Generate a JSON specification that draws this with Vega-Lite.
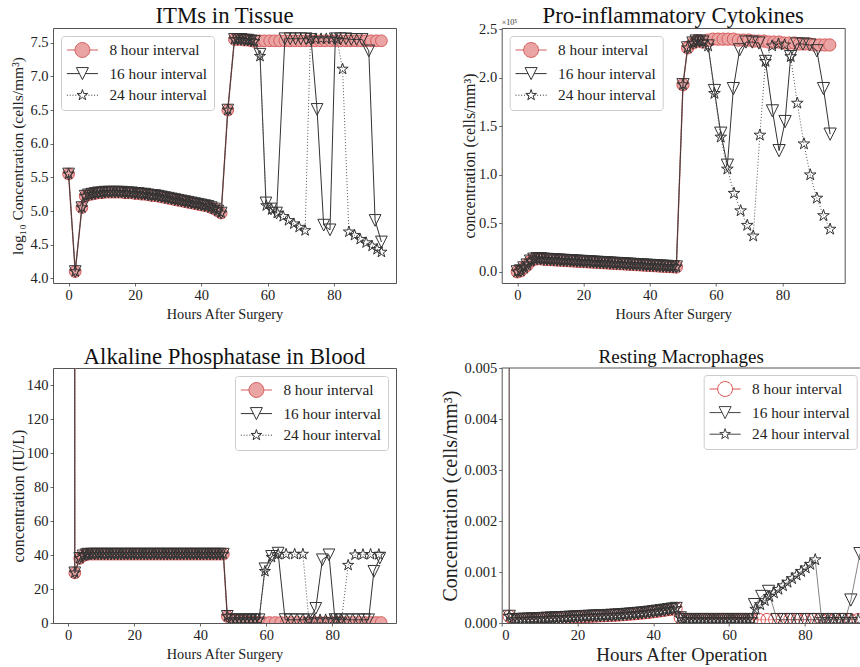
{
"$schema": "https://vega.github.io/schema/vega-lite/v6.json",
"padding": {"left": 9, "top": 4, "right": 0, "bottom": 0},
"background": "white",
"columns": 2,
"spacing": {"row": 85, "column": 105.7},
"bounds": "flush",
"config": {
  "font": "Liberation Serif",
  "view": {"stroke": "#555555", "strokeWidth": 1},
  "axis": {"domain": false, "grid": false, "tickSize": 3, "tickColor": "#444444", "tickWidth": 0.8, "labelFont": "Liberation Serif", "labelFontSize": 14.5, "labelColor": "#222222", "labelPadding": 2, "titleFont": "Liberation Serif", "titleFontSize": 15, "titleFontWeight": "normal", "titleColor": "#222222", "titleBaseline": "alphabetic"},
  "title": {"font": "Liberation Serif", "fontSize": 22.8, "fontWeight": "normal", "color": "#111111", "baseline": "alphabetic", "offset": 0, "anchor": "middle", "frame": "group"},
  "legend": {"padding": 6, "cornerRadius": 3, "strokeColor": "#cccccc", "fillColor": "rgba(255,255,255,0.85)", "labelFont": "Liberation Serif", "labelFontSize": 15.3, "labelColor": "#222222", "rowPadding": 4.6, "symbolSize": 200, "symbolStrokeWidth": 1, "symbolOpacity": 1, "labelOffset": 19, "symbolOffset": 7.4}
},
"resolve": {"scale": {"shape": "independent", "stroke": "independent", "fill": "independent"}, "legend": {"shape": "independent", "stroke": "independent", "fill": "independent"}},
"datasets": {
"itm": [
{"t":0,"a":5.55,"b":5.55,"c":5.55},{"t":2,"a":4.1,"b":4.1,"c":4.1},{"t":4,"a":5.05,"b":5.05,"c":5.05},{"t":5,"a":5.22,"b":5.22,"c":5.22},
{"t":6,"a":5.24,"b":5.24,"c":5.24},{"t":7,"a":5.25,"b":5.25,"c":5.25},{"t":8,"a":5.26,"b":5.26,"c":5.26},{"t":9,"a":5.27,"b":5.27,"c":5.27},
{"t":10,"a":5.27,"b":5.27,"c":5.27},{"t":11,"a":5.28,"b":5.28,"c":5.28},{"t":12,"a":5.28,"b":5.28,"c":5.28},{"t":13,"a":5.28,"b":5.28,"c":5.28},
{"t":14,"a":5.28,"b":5.28,"c":5.28},{"t":15,"a":5.28,"b":5.28,"c":5.28},{"t":16,"a":5.28,"b":5.28,"c":5.28},{"t":17,"a":5.27,"b":5.27,"c":5.27},
{"t":18,"a":5.27,"b":5.27,"c":5.27},{"t":19,"a":5.27,"b":5.27,"c":5.27},{"t":20,"a":5.26,"b":5.26,"c":5.26},{"t":21,"a":5.26,"b":5.26,"c":5.26},
{"t":22,"a":5.25,"b":5.25,"c":5.25},{"t":23,"a":5.25,"b":5.25,"c":5.25},{"t":24,"a":5.24,"b":5.24,"c":5.24},{"t":25,"a":5.23,"b":5.23,"c":5.23},
{"t":26,"a":5.23,"b":5.23,"c":5.23},{"t":27,"a":5.22,"b":5.22,"c":5.22},{"t":28,"a":5.21,"b":5.21,"c":5.21},{"t":29,"a":5.2,"b":5.2,"c":5.2},
{"t":30,"a":5.19,"b":5.19,"c":5.19},{"t":31,"a":5.18,"b":5.18,"c":5.18},{"t":32,"a":5.17,"b":5.17,"c":5.17},{"t":33,"a":5.16,"b":5.16,"c":5.16},
{"t":34,"a":5.15,"b":5.15,"c":5.15},{"t":35,"a":5.14,"b":5.14,"c":5.14},{"t":36,"a":5.13,"b":5.13,"c":5.13},{"t":37,"a":5.12,"b":5.12,"c":5.12},
{"t":38,"a":5.11,"b":5.11,"c":5.11},{"t":39,"a":5.1,"b":5.1,"c":5.1},{"t":40,"a":5.09,"b":5.09,"c":5.09},{"t":41,"a":5.08,"b":5.08,"c":5.08},
{"t":42,"a":5.07,"b":5.07,"c":5.07},{"t":43,"a":5.05,"b":5.05,"c":5.05},{"t":44,"a":5.03,"b":5.03,"c":5.03},{"t":45,"a":5.0,"b":5.0,"c":5.0},
{"t":46,"a":4.97,"b":4.97,"c":4.97},{"t":48,"a":6.5,"b":6.5,"c":6.5},{"t":50,"a":7.55,"b":7.55,"c":7.55},{"t":51,"a":7.55,"b":7.55,"c":7.55},
{"t":52,"a":7.55,"b":7.55,"c":7.55},{"t":53,"a":7.54,"b":7.54,"c":7.54},{"t":54,"a":7.54,"b":7.54,"c":7.54},{"t":55,"a":7.53,"b":7.53,"c":7.53},
{"t":56,"a":7.52,"b":7.52,"c":7.52},
{"t":57.5,"a":7.53},{"t":59.0,"a":7.53},{"t":60.6,"a":7.53},{"t":62.1,"a":7.53},{"t":63.6,"a":7.53},{"t":65.2,"a":7.53},{"t":66.7,"a":7.53},
{"t":68.2,"a":7.53},{"t":69.8,"a":7.53},{"t":71.3,"a":7.53},{"t":72.8,"a":7.53},{"t":74.4,"a":7.53},{"t":75.9,"a":7.53},{"t":77.4,"a":7.53},
{"t":79.0,"a":7.53},{"t":80.5,"a":7.53},{"t":82.0,"a":7.53},{"t":83.6,"a":7.53},{"t":85.1,"a":7.53},{"t":86.6,"a":7.53},{"t":88.2,"a":7.53},
{"t":89.7,"a":7.53},{"t":91.2,"a":7.53},{"t":92.8,"a":7.53},{"t":94.3,"a":7.53},
{"t":57.7,"b":7.33},{"t":59.5,"b":5.12},{"t":61.0,"b":5.03},{"t":62.7,"b":4.97},{"t":65.2,"b":7.56},{"t":66.8,"b":7.56},{"t":68.4,"b":7.56},
{"t":70.0,"b":7.56},{"t":71.6,"b":7.56},{"t":73.1,"b":7.55},{"t":74.9,"b":6.51},{"t":76.9,"b":4.79},{"t":78.8,"b":4.72},{"t":80.4,"b":7.56},
{"t":82.0,"b":7.56},{"t":83.6,"b":7.56},{"t":85.2,"b":7.55},{"t":86.8,"b":7.55},{"t":88.5,"b":7.55},{"t":90.5,"b":7.38},{"t":92.4,"b":4.86},{"t":94.3,"b":4.54},
{"t":57.7,"c":7.3},{"t":59.6,"c":5.08},{"t":61.2,"c":5.02},{"t":62.9,"c":4.97},{"t":64.7,"c":4.92},{"t":66.3,"c":4.86},{"t":67.9,"c":4.81},
{"t":69.5,"c":4.76},{"t":71.3,"c":4.71},{"t":72.9,"c":7.56},{"t":74.5,"c":7.56},{"t":76.1,"c":7.56},{"t":77.7,"c":7.56},{"t":79.3,"c":7.56},
{"t":80.9,"c":7.55},{"t":82.6,"c":7.11},{"t":84.5,"c":4.69},{"t":86.2,"c":4.64},{"t":87.9,"c":4.58},{"t":89.7,"c":4.53},{"t":91.5,"c":4.48},
{"t":93.0,"c":4.43},{"t":94.3,"c":4.39}
],
"cyt": [
{"t":0,"a":0,"b":0,"c":0},{"t":1,"a":0.01,"b":0.01,"c":0.01},{"t":2,"a":0.04,"b":0.04,"c":0.04},{"t":3,"a":0.07,"b":0.07,"c":0.07},
{"t":4,"a":0.11,"b":0.11,"c":0.11},{"t":5,"a":0.13,"b":0.13,"c":0.13},{"t":6,"a":0.135,"b":0.135,"c":0.135},{"t":7,"a":0.135,"b":0.135,"c":0.135},
{"t":8,"a":0.13,"b":0.13,"c":0.13},{"t":9,"a":0.128,"b":0.128,"c":0.128},{"t":10,"a":0.126,"b":0.126,"c":0.126},{"t":11,"a":0.124,"b":0.124,"c":0.124},
{"t":12,"a":0.122,"b":0.122,"c":0.122},{"t":13,"a":0.12,"b":0.12,"c":0.12},{"t":14,"a":0.118,"b":0.118,"c":0.118},{"t":15,"a":0.116,"b":0.116,"c":0.116},
{"t":16,"a":0.114,"b":0.114,"c":0.114},{"t":17,"a":0.112,"b":0.112,"c":0.112},{"t":18,"a":0.11,"b":0.11,"c":0.11},{"t":19,"a":0.108,"b":0.108,"c":0.108},
{"t":20,"a":0.106,"b":0.106,"c":0.106},{"t":21,"a":0.104,"b":0.104,"c":0.104},{"t":22,"a":0.102,"b":0.102,"c":0.102},{"t":23,"a":0.1,"b":0.1,"c":0.1},
{"t":24,"a":0.098,"b":0.098,"c":0.098},{"t":25,"a":0.096,"b":0.096,"c":0.096},{"t":26,"a":0.094,"b":0.094,"c":0.094},{"t":27,"a":0.092,"b":0.092,"c":0.092},
{"t":28,"a":0.09,"b":0.09,"c":0.09},{"t":29,"a":0.088,"b":0.088,"c":0.088},{"t":30,"a":0.086,"b":0.086,"c":0.086},{"t":31,"a":0.084,"b":0.084,"c":0.084},
{"t":32,"a":0.082,"b":0.082,"c":0.082},{"t":33,"a":0.08,"b":0.08,"c":0.08},{"t":34,"a":0.078,"b":0.078,"c":0.078},{"t":35,"a":0.076,"b":0.076,"c":0.076},
{"t":36,"a":0.074,"b":0.074,"c":0.074},{"t":37,"a":0.072,"b":0.072,"c":0.072},{"t":38,"a":0.07,"b":0.07,"c":0.07},{"t":39,"a":0.068,"b":0.068,"c":0.068},
{"t":40,"a":0.066,"b":0.066,"c":0.066},{"t":41,"a":0.064,"b":0.064,"c":0.064},{"t":42,"a":0.062,"b":0.062,"c":0.062},{"t":43,"a":0.06,"b":0.06,"c":0.06},
{"t":44,"a":0.058,"b":0.058,"c":0.058},{"t":45,"a":0.056,"b":0.056,"c":0.056},{"t":46,"a":0.054,"b":0.054,"c":0.054},{"t":47,"a":0.052,"b":0.052,"c":0.052},
{"t":48,"a":0.05,"b":0.05,"c":0.05},{"t":50,"a":1.93,"b":1.93,"c":1.93},{"t":51.4,"a":2.31,"b":2.31,"c":2.31},{"t":53,"a":2.36,"b":2.36,"c":2.36},
{"t":54,"a":2.38,"b":2.38,"c":2.38},{"t":55,"a":2.38,"b":2.38,"c":2.38},{"t":56,"a":2.37,"b":2.37,"c":2.37},
{"t":57.5,"a":2.39},{"t":59.0,"a":2.4},{"t":60.6,"a":2.4},{"t":62.1,"a":2.4},{"t":63.6,"a":2.4},{"t":65.2,"a":2.4},{"t":66.7,"a":2.39},
{"t":68.2,"a":2.39},{"t":69.8,"a":2.39},{"t":71.3,"a":2.38},{"t":72.8,"a":2.38},{"t":74.4,"a":2.38},{"t":75.9,"a":2.37},{"t":77.4,"a":2.37},
{"t":79.0,"a":2.37},{"t":80.5,"a":2.36},{"t":82.0,"a":2.36},{"t":83.6,"a":2.36},{"t":85.1,"a":2.35},{"t":86.6,"a":2.35},{"t":88.2,"a":2.35},
{"t":89.7,"a":2.34},{"t":91.2,"a":2.34},{"t":92.8,"a":2.34},{"t":94.3,"a":2.34},
{"t":57.6,"b":2.33},{"t":59.5,"b":1.87},{"t":61.4,"b":1.43},{"t":63.4,"b":1.1},{"t":65.2,"b":1.89},{"t":67.1,"b":2.29},{"t":69.0,"b":2.37},
{"t":70.9,"b":2.37},{"t":72.9,"b":2.36},{"t":74.9,"b":2.17},{"t":77.0,"b":1.66},{"t":79.0,"b":1.25},{"t":80.8,"b":1.55},{"t":82.5,"b":2.22},
{"t":84.3,"b":2.35},{"t":86.2,"b":2.35},{"t":88.2,"b":2.34},{"t":90.4,"b":2.28},{"t":92.4,"b":1.89},{"t":94.4,"b":1.42},
{"t":57.6,"c":2.33},{"t":59.5,"c":1.84},{"t":61.4,"c":1.39},{"t":63.4,"c":1.06},{"t":65.4,"c":0.81},{"t":67.4,"c":0.63},{"t":69.4,"c":0.48},
{"t":71.2,"c":0.37},{"t":73.2,"c":1.41},{"t":74.9,"c":2.17},{"t":76.9,"c":2.33},{"t":78.8,"c":2.35},{"t":80.7,"c":2.34},{"t":82.5,"c":2.22},
{"t":84.5,"c":1.74},{"t":86.5,"c":1.32},{"t":88.4,"c":1.0},{"t":90.4,"c":0.76},{"t":92.4,"c":0.58},{"t":94.4,"c":0.44}
],
"alp": [
{"t":0,"a":20000,"b":20000,"c":20000},{"t":2,"a":29.5,"b":29.5,"c":29.5},{"t":3.5,"a":38,"b":38,"c":38},{"t":4.5,"a":39.5,"b":39.5,"c":39.5},
{"t":5.5,"a":40.2,"b":40.2,"c":40.2},{"t":6,"a":40.5,"b":40.5,"c":40.5},{"t":7,"a":40.5,"b":40.5,"c":40.5},{"t":8,"a":40.5,"b":40.5,"c":40.5},
{"t":9,"a":40.5,"b":40.5,"c":40.5},{"t":10,"a":40.5,"b":40.5,"c":40.5},{"t":11,"a":40.5,"b":40.5,"c":40.5},{"t":12,"a":40.5,"b":40.5,"c":40.5},
{"t":13,"a":40.5,"b":40.5,"c":40.5},{"t":14,"a":40.5,"b":40.5,"c":40.5},{"t":15,"a":40.5,"b":40.5,"c":40.5},{"t":16,"a":40.5,"b":40.5,"c":40.5},
{"t":17,"a":40.5,"b":40.5,"c":40.5},{"t":18,"a":40.5,"b":40.5,"c":40.5},{"t":19,"a":40.5,"b":40.5,"c":40.5},{"t":20,"a":40.5,"b":40.5,"c":40.5},
{"t":21,"a":40.5,"b":40.5,"c":40.5},{"t":22,"a":40.5,"b":40.5,"c":40.5},{"t":23,"a":40.5,"b":40.5,"c":40.5},{"t":24,"a":40.5,"b":40.5,"c":40.5},
{"t":25,"a":40.5,"b":40.5,"c":40.5},{"t":26,"a":40.5,"b":40.5,"c":40.5},{"t":27,"a":40.5,"b":40.5,"c":40.5},{"t":28,"a":40.5,"b":40.5,"c":40.5},
{"t":29,"a":40.5,"b":40.5,"c":40.5},{"t":30,"a":40.5,"b":40.5,"c":40.5},{"t":31,"a":40.5,"b":40.5,"c":40.5},{"t":32,"a":40.5,"b":40.5,"c":40.5},
{"t":33,"a":40.5,"b":40.5,"c":40.5},{"t":34,"a":40.5,"b":40.5,"c":40.5},{"t":35,"a":40.5,"b":40.5,"c":40.5},{"t":36,"a":40.5,"b":40.5,"c":40.5},
{"t":37,"a":40.5,"b":40.5,"c":40.5},{"t":38,"a":40.5,"b":40.5,"c":40.5},{"t":39,"a":40.5,"b":40.5,"c":40.5},{"t":40,"a":40.5,"b":40.5,"c":40.5},
{"t":41,"a":40.5,"b":40.5,"c":40.5},{"t":42,"a":40.5,"b":40.5,"c":40.5},{"t":43,"a":40.5,"b":40.5,"c":40.5},{"t":44,"a":40.5,"b":40.5,"c":40.5},
{"t":45,"a":40.5,"b":40.5,"c":40.5},{"t":46,"a":40.5,"b":40.5,"c":40.5},{"t":47,"a":40.5,"b":40.5,"c":40.5},{"t":48.2,"a":3.9,"b":3.9,"c":3.9},
{"t":49.4,"a":1.9,"b":1.9,"c":1.9},{"t":50.6,"a":1.5,"b":1.9,"c":1.9},{"t":51.8,"a":1.2,"b":1.9,"c":1.9},{"t":53.0,"a":1.0,"b":1.9,"c":1.9},
{"t":54.2,"a":0.8,"b":1.9,"c":1.9},{"t":55.4,"a":0.6,"b":1.9,"c":1.9},{"t":56.6,"a":0.5,"b":1.9,"c":1.9},{"t":57.8,"a":0.4,"b":1.9,"c":1.9},
{"t":59.6,"b":31.9,"c":30.4},{"t":61.6,"b":39.2,"c":38.7},{"t":63.6,"b":41.1,"c":40.4},
{"t":59.3,"a":0.3},{"t":61.0,"a":0.3},{"t":62.7,"a":0.3},{"t":64.4,"a":0.3},{"t":66.1,"a":0.3},{"t":67.8,"a":0.3},{"t":69.5,"a":0.3},
{"t":71.2,"a":0.3},{"t":72.9,"a":0.3},{"t":74.6,"a":0.3},{"t":76.3,"a":0.3},{"t":78.0,"a":0.3},{"t":79.7,"a":0.3},{"t":81.4,"a":0.3},
{"t":83.1,"a":0.3},{"t":84.8,"a":0.3},{"t":86.5,"a":0.3},{"t":88.2,"a":0.3},{"t":89.9,"a":0.3},{"t":91.6,"a":0.3},{"t":93.3,"a":0.3},{"t":94.8,"a":0.3},
{"t":65.7,"b":2.0},{"t":67.5,"b":1.9},{"t":69.3,"b":1.9},{"t":71.1,"b":1.9},{"t":72.9,"b":1.9},{"t":75.0,"b":8.6},{"t":77.0,"b":37.2},
{"t":79.0,"b":40.1},{"t":80.8,"b":2.0},{"t":82.6,"b":1.9},{"t":84.4,"b":1.9},{"t":86.2,"b":1.9},{"t":88.0,"b":1.9},{"t":89.8,"b":1.9},
{"t":91.0,"b":1.9},{"t":92.6,"b":30.4},{"t":94.4,"b":38.2},
{"t":66.0,"c":40.5},{"t":68.6,"c":40.5},{"t":71.1,"c":40.5},{"t":72.9,"c":1.9},{"t":74.6,"c":1.9},{"t":76.3,"c":1.9},{"t":78.0,"c":1.9},
{"t":79.7,"c":1.9},{"t":81.3,"c":1.9},{"t":82.8,"c":1.9},{"t":84.8,"c":34.0},{"t":86.9,"c":40.1},{"t":89.3,"c":40.3},{"t":91.6,"c":40.4},{"t":94.1,"c":40.3}
],
"mac": [
{"t":0,"a":1.0,"b":1.0,"c":1.0},{"t":2,"a":0.00013,"b":0.00013,"c":0.00013},{"t":3,"a":0.000065,"b":0.000065,"c":0.000065},
{"t":4,"a":0.000067,"b":0.000067,"c":0.000067},{"t":5,"a":0.00007,"b":0.00007,"c":0.00007},{"t":6,"a":0.000072,"b":0.000072,"c":0.000072},
{"t":7,"a":0.000075,"b":0.000075,"c":0.000075},{"t":8,"a":0.000078,"b":0.000078,"c":0.000078},{"t":9,"a":0.000082,"b":0.000082,"c":0.000082},
{"t":10,"a":0.000085,"b":0.000085,"c":0.000085},{"t":11,"a":0.000088,"b":0.000088,"c":0.000088},{"t":12,"a":0.000092,"b":0.000092,"c":0.000092},
{"t":13,"a":0.000095,"b":0.000095,"c":0.000095},{"t":14,"a":0.000098,"b":0.000098,"c":0.000098},{"t":15,"a":0.000102,"b":0.000102,"c":0.000102},
{"t":16,"a":0.000105,"b":0.000105,"c":0.000105},{"t":17,"a":0.000108,"b":0.000108,"c":0.000108},{"t":18,"a":0.000112,"b":0.000112,"c":0.000112},
{"t":19,"a":0.000116,"b":0.000116,"c":0.000116},{"t":20,"a":0.00012,"b":0.00012,"c":0.00012},{"t":21,"a":0.000123,"b":0.000123,"c":0.000123},
{"t":22,"a":0.000127,"b":0.000127,"c":0.000127},{"t":23,"a":0.00013,"b":0.00013,"c":0.00013},{"t":24,"a":0.000133,"b":0.000133,"c":0.000133},
{"t":25,"a":0.000137,"b":0.000137,"c":0.000137},{"t":26,"a":0.00014,"b":0.00014,"c":0.00014},{"t":27,"a":0.000143,"b":0.000143,"c":0.000143},
{"t":28,"a":0.000146,"b":0.000146,"c":0.000146},{"t":29,"a":0.00015,"b":0.00015,"c":0.00015},{"t":30,"a":0.000153,"b":0.000153,"c":0.000153},
{"t":31,"a":0.000158,"b":0.000158,"c":0.000158},{"t":32,"a":0.000163,"b":0.000163,"c":0.000163},{"t":33,"a":0.000169,"b":0.000169,"c":0.000169},
{"t":34,"a":0.000175,"b":0.000175,"c":0.000175},{"t":35,"a":0.000181,"b":0.000181,"c":0.000181},{"t":36,"a":0.000188,"b":0.000188,"c":0.000188},
{"t":37,"a":0.000195,"b":0.000195,"c":0.000195},{"t":38,"a":0.000203,"b":0.000203,"c":0.000203},{"t":39,"a":0.000211,"b":0.000211,"c":0.000211},
{"t":40,"a":0.00022,"b":0.00022,"c":0.00022},{"t":41,"a":0.00023,"b":0.00023,"c":0.00023},{"t":42,"a":0.00024,"b":0.00024,"c":0.00024},
{"t":43,"a":0.000251,"b":0.000251,"c":0.000251},{"t":44,"a":0.000262,"b":0.000262,"c":0.000262},{"t":45,"a":0.000273,"b":0.000273,"c":0.000273},
{"t":46,"a":0.000285,"b":0.000285,"c":0.000285},{"t":47.1,"a":0.0001,"b":0.0001,"c":0.0001},
{"t":48,"a":0.000067,"b":0.000067,"c":0.000067},{"t":49,"a":0.000067,"b":0.000067,"c":0.000067},{"t":50,"a":0.000067,"b":0.000067,"c":0.000067},
{"t":51,"a":0.000067,"b":0.000067,"c":0.000067},{"t":52,"a":0.000067,"b":0.000067,"c":0.000067},{"t":53,"a":0.000067,"b":0.000067,"c":0.000067},
{"t":54,"a":0.000067,"b":0.000067,"c":0.000067},{"t":55,"a":0.000067,"b":0.000067,"c":0.000067},{"t":56,"a":0.000067,"b":0.000067,"c":0.000067},
{"t":57,"a":0.000067,"b":0.000067,"c":0.000067},{"t":58,"a":0.000067,"b":0.000067,"c":0.000067},{"t":59,"a":0.000067,"b":0.000067,"c":0.000067},
{"t":60,"a":0.000067,"b":0.000067,"c":0.000067},{"t":61,"a":0.000067,"b":0.000067,"c":0.000067},{"t":62,"a":0.000067,"b":0.000067,"c":0.000067},
{"t":63,"a":0.000067,"b":0.000067,"c":0.000067},{"t":64,"a":0.000067,"b":0.000067,"c":0.000067},{"t":65,"a":0.000067,"b":0.000067,"c":0.000067},
{"t":66,"a":0.000067,"b":0.000067,"c":0.000067},
{"t":68,"a":0.000067},{"t":70,"a":0.000067},{"t":72,"a":0.000067},{"t":74,"a":0.000067},{"t":76,"a":0.000067},{"t":78,"a":0.000067},{"t":80,"a":0.000067},
{"t":82,"a":0.000067},{"t":84,"a":0.000067},{"t":86,"a":0.000067},{"t":88,"a":0.000067},{"t":90,"a":0.000067},{"t":92,"a":0.000067},{"t":94,"a":0.000067},
{"t":66.7,"b":0.00036},{"t":68.6,"b":0.00052},{"t":70.4,"b":0.00062},{"t":72.6,"b":0.000067},{"t":74.4,"b":0.000067},{"t":76.2,"b":0.000067},
{"t":78.0,"b":0.000067},{"t":79.8,"b":0.000067},{"t":81.6,"b":0.000067},{"t":83.4,"b":0.000067},{"t":85.2,"b":0.000067},{"t":87.0,"b":0.000067},
{"t":88.8,"b":0.000067},{"t":90.6,"b":0.000067},{"t":92.1,"b":0.00045},{"t":94.5,"b":0.00136},
{"t":67.0,"c":0.00027},{"t":68.2,"c":0.00036},{"t":69.4,"c":0.00044},{"t":70.6,"c":0.00052},{"t":71.8,"c":0.00059},{"t":73.0,"c":0.00066},
{"t":74.2,"c":0.00073},{"t":75.4,"c":0.0008},{"t":76.6,"c":0.00087},{"t":77.8,"c":0.00094},{"t":79.0,"c":0.00101},{"t":80.2,"c":0.00108},
{"t":81.4,"c":0.00115},{"t":82.7,"c":0.00124},{"t":84.4,"c":0.000067},{"t":86.0,"c":0.000067},{"t":87.6,"c":0.000067},{"t":89.2,"c":0.000067},
{"t":90.8,"c":0.000067},{"t":92.4,"c":0.000067},{"t":94.0,"c":0.000067}
]
},
"concat": [
{
"width": 343, "height": 255,
"title": {"text": "ITMs in Tissue", "offset": 0},
"data": {"name": "itm"},
"transform": [{"fold": ["a","b","c"], "as": ["s","v"]}, {"filter": "isValid(datum.v)"}],
"encoding": {
 "x": {"field": "t", "type": "quantitative", "scale": {"domain": [-4.7, 98.7], "nice": false, "zero": false}, "axis": {"values": [0,20,40,60,80], "format": "d", "title": "Hours After Surgery", "titleFontSize": 14.3, "titleY": 35.6}},
 "y": {"field": "v", "type": "quantitative", "scale": {"domain": [3.93, 7.72], "nice": false, "zero": false}, "axis": {"values": [4,4.5,5,5.5,6,6.5,7,7.5], "format": ".1f", "title": "log₁₀ Concentration (cells/mm³)", "titleFontSize": 15.5, "titleX": -30.5}}
},
"layer": [
 {"transform": [{"filter": "datum.s=='a'"}], "mark": {"type": "line", "clip": true, "color": "#e88a8a", "strokeWidth": 1.5}},
 {"transform": [{"filter": "datum.s=='a'"}], "mark": {"type": "point", "clip": true, "shape": "circle", "size": 137, "filled": true, "color": "#eba4a4", "stroke": "#d65c5c", "strokeWidth": 1, "opacity": 1}},
 {"transform": [{"filter": "datum.s=='b'"}], "mark": {"type": "line", "clip": true, "color": "#333333", "strokeWidth": 1}},
 {"transform": [{"filter": "datum.s=='b'"}], "mark": {"type": "point", "clip": true, "shape": "M-1,-1L1,-1L0,1Z", "size": 137, "filled": false, "color": "#333333", "strokeWidth": 1, "opacity": 1}},
 {"transform": [{"filter": "datum.s=='c'"}], "mark": {"type": "line", "clip": true, "color": "#555555", "strokeWidth": 1, "strokeDash": [1, 2]}},
 {"transform": [{"filter": "datum.s=='c'"}], "mark": {"type": "point", "clip": true, "shape": "M0,-1L0.225,-0.309L0.951,-0.309L0.363,0.118L0.588,0.809L0,0.382L-0.588,0.809L-0.363,0.118L-0.951,-0.309L-0.225,-0.309Z", "size": 137, "filled": false, "color": "#333333", "strokeWidth": 1, "opacity": 1}},
 {"transform": [{"filter": "false"}], "mark": {"type": "point", "filled": true, "size": 200, "opacity": 1, "strokeWidth": 1},
  "encoding": {
   "shape": {"field": "s", "type": "nominal", "scale": {"domain": ["a","b","c"], "range": ["M-2.2,0H-1.05M1.05,0H2.2M1.05,0C1.05,0.58,0.58,1.05,0,1.05C-0.58,1.05,-1.05,0.58,-1.05,0C-1.05,-0.58,-0.58,-1.05,0,-1.05C0.58,-1.05,1.05,-0.58,1.05,0Z", "M-2.2,0H-0.43M0.43,0H2.2M-0.85,-0.85L0.85,-0.85L0,0.85Z", "M-2.2,0H-2.06M-1.8,0H-1.66M-1.4,0H-1.26M-1,0H-0.86M-0.6,0H-0.46M0.46,0H0.6M0.86,0H1M1.26,0H1.4M1.66,0H1.8M2.06,0H2.2M0,-0.8L0.18,-0.247L0.761,-0.247L0.291,0.094L0.47,0.647L0,0.306L-0.47,0.647L-0.291,0.094L-0.761,-0.247L-0.18,-0.247Z"]}, "legend": {"title": null, "orient": "top-left", "offset": 8, "labelExpr": "datum.label=='a'?'8 hour interval  ':datum.label=='b'?'16 hour interval  ':'24 hour interval  '"}},
   "stroke": {"field": "s", "type": "nominal", "scale": {"domain": ["a","b","c"], "range": ["#d65c5c","#333333","#333333"]}, "legend": {"title": null, "orient": "top-left", "offset": 8, "labelExpr": "datum.label=='a'?'8 hour interval  ':datum.label=='b'?'16 hour interval  ':'24 hour interval  '"}},
   "fill": {"field": "s", "type": "nominal", "scale": {"domain": ["a","b","c"], "range": ["#eba4a4","transparent","transparent"]}, "legend": {"title": null, "orient": "top-left", "offset": 8, "labelExpr": "datum.label=='a'?'8 hour interval  ':datum.label=='b'?'16 hour interval  ':'24 hour interval  '"}}
  }}
]
},
{
"width": 343, "height": 255,
"title": {"text": "Pro-inflammatory Cytokines", "offset": -8.6},
"data": {"name": "cyt"},
"transform": [{"fold": ["a","b","c"], "as": ["s","v"]}, {"filter": "isValid(datum.v)"}],
"encoding": {
 "x": {"field": "t", "type": "quantitative", "scale": {"domain": [-4.7, 98.8], "nice": false, "zero": false}, "axis": {"values": [0,20,40,60,80], "format": "d", "title": "Hours After Surgery", "titleFontSize": 14.3, "titleY": 35.6}},
 "y": {"field": "v", "type": "quantitative", "scale": {"domain": [-0.115, 2.515], "nice": false, "zero": false}, "axis": {"values": [0,0.5,1,1.5,2,2.5], "format": ".1f", "title": "concentration (cells/mm³)", "titleFontSize": 16, "titleX": -27.7}}
},
"layer": [
 {"transform": [{"filter": "datum.s=='a'"}], "mark": {"type": "line", "clip": true, "color": "#e88a8a", "strokeWidth": 1.5}},
 {"transform": [{"filter": "datum.s=='a'"}], "mark": {"type": "point", "clip": true, "shape": "circle", "size": 150, "filled": true, "color": "#eba4a4", "stroke": "#d65c5c", "strokeWidth": 1, "opacity": 1}},
 {"transform": [{"filter": "datum.s=='b'"}], "mark": {"type": "line", "clip": true, "color": "#333333", "strokeWidth": 1}},
 {"transform": [{"filter": "datum.s=='b'"}], "mark": {"type": "point", "clip": true, "shape": "M-1,-1L1,-1L0,1Z", "size": 150, "filled": false, "color": "#333333", "strokeWidth": 1, "opacity": 1}},
 {"transform": [{"filter": "datum.s=='c'"}], "mark": {"type": "line", "clip": true, "color": "#555555", "strokeWidth": 1, "strokeDash": [1, 2]}},
 {"transform": [{"filter": "datum.s=='c'"}], "mark": {"type": "point", "clip": true, "shape": "M0,-1L0.225,-0.309L0.951,-0.309L0.363,0.118L0.588,0.809L0,0.382L-0.588,0.809L-0.363,0.118L-0.951,-0.309L-0.225,-0.309Z", "size": 150, "filled": false, "color": "#333333", "strokeWidth": 1, "opacity": 1}},
 {"transform": [{"filter": "datum.s=='a' && datum.t==0"}], "mark": {"type": "text", "text": "×10⁵", "align": "left", "baseline": "bottom", "fontSize": 8, "dy": -1, "color": "#333333"}, "encoding": {"x": {"datum": -4.7}, "y": {"datum": 2.515}}},
 {"transform": [{"filter": "false"}], "mark": {"type": "point", "filled": true, "size": 200, "opacity": 1, "strokeWidth": 1},
  "encoding": {
   "shape": {"field": "s", "type": "nominal", "scale": {"domain": ["a","b","c"], "range": ["M-2.2,0H-1.05M1.05,0H2.2M1.05,0C1.05,0.58,0.58,1.05,0,1.05C-0.58,1.05,-1.05,0.58,-1.05,0C-1.05,-0.58,-0.58,-1.05,0,-1.05C0.58,-1.05,1.05,-0.58,1.05,0Z", "M-2.2,0H-0.43M0.43,0H2.2M-0.85,-0.85L0.85,-0.85L0,0.85Z", "M-2.2,0H-2.06M-1.8,0H-1.66M-1.4,0H-1.26M-1,0H-0.86M-0.6,0H-0.46M0.46,0H0.6M0.86,0H1M1.26,0H1.4M1.66,0H1.8M2.06,0H2.2M0,-0.8L0.18,-0.247L0.761,-0.247L0.291,0.094L0.47,0.647L0,0.306L-0.47,0.647L-0.291,0.094L-0.761,-0.247L-0.18,-0.247Z"]}, "legend": {"title": null, "orient": "top-left", "offset": 8, "labelExpr": "datum.label=='a'?'8 hour interval  ':datum.label=='b'?'16 hour interval  ':'24 hour interval  '"}},
   "stroke": {"field": "s", "type": "nominal", "scale": {"domain": ["a","b","c"], "range": ["#d65c5c","#333333","#333333"]}, "legend": {"title": null, "orient": "top-left", "offset": 8, "labelExpr": "datum.label=='a'?'8 hour interval  ':datum.label=='b'?'16 hour interval  ':'24 hour interval  '"}},
   "fill": {"field": "s", "type": "nominal", "scale": {"domain": ["a","b","c"], "range": ["#eba4a4","transparent","transparent"]}, "legend": {"title": null, "orient": "top-left", "offset": 8, "labelExpr": "datum.label=='a'?'8 hour interval  ':datum.label=='b'?'16 hour interval  ':'24 hour interval  '"}}
  }}
]
},
{
"width": 343, "height": 255,
"title": {"text": "Alkaline Phosphatase in Blood", "offset": -0.6},
"data": {"name": "alp"},
"transform": [{"fold": ["a","b","c"], "as": ["s","v"]}, {"filter": "isValid(datum.v)"}],
"encoding": {
 "x": {"field": "t", "type": "quantitative", "scale": {"domain": [-4.6, 99.3], "nice": false, "zero": false}, "axis": {"values": [0,20,40,60,80], "format": "d", "title": "Hours After Surgery", "titleFontSize": 14.3, "titleY": 35}},
 "y": {"field": "v", "type": "quantitative", "scale": {"domain": [0, 150], "nice": false, "zero": false}, "axis": {"values": [0,20,40,60,80,100,120,140], "format": "d", "title": "concentration (IU/L)", "titleFontSize": 16, "titleX": -29.6}}
},
"layer": [
 {"transform": [{"filter": "datum.s=='a'"}], "mark": {"type": "line", "clip": true, "color": "#e88a8a", "strokeWidth": 1.5}},
 {"transform": [{"filter": "datum.s=='a'"}], "mark": {"type": "point", "clip": true, "shape": "circle", "size": 137, "filled": true, "color": "#eba4a4", "stroke": "#d65c5c", "strokeWidth": 1, "opacity": 1}},
 {"transform": [{"filter": "datum.s=='b'"}], "mark": {"type": "line", "clip": true, "color": "#333333", "strokeWidth": 1}},
 {"transform": [{"filter": "datum.s=='b'"}], "mark": {"type": "point", "clip": true, "shape": "M-1,-1L1,-1L0,1Z", "size": 137, "filled": false, "color": "#333333", "strokeWidth": 1, "opacity": 1}},
 {"transform": [{"filter": "datum.s=='c'"}], "mark": {"type": "line", "clip": true, "color": "#555555", "strokeWidth": 1, "strokeDash": [1, 2]}},
 {"transform": [{"filter": "datum.s=='c'"}], "mark": {"type": "point", "clip": true, "shape": "M0,-1L0.225,-0.309L0.951,-0.309L0.363,0.118L0.588,0.809L0,0.382L-0.588,0.809L-0.363,0.118L-0.951,-0.309L-0.225,-0.309Z", "size": 137, "filled": false, "color": "#333333", "strokeWidth": 1, "opacity": 1}},
 {"transform": [{"filter": "false"}], "mark": {"type": "point", "filled": true, "size": 200, "opacity": 1, "strokeWidth": 1},
  "encoding": {
   "shape": {"field": "s", "type": "nominal", "scale": {"domain": ["a","b","c"], "range": ["M-2.2,0H-1.05M1.05,0H2.2M1.05,0C1.05,0.58,0.58,1.05,0,1.05C-0.58,1.05,-1.05,0.58,-1.05,0C-1.05,-0.58,-0.58,-1.05,0,-1.05C0.58,-1.05,1.05,-0.58,1.05,0Z", "M-2.2,0H-0.43M0.43,0H2.2M-0.85,-0.85L0.85,-0.85L0,0.85Z", "M-2.2,0H-2.06M-1.8,0H-1.66M-1.4,0H-1.26M-1,0H-0.86M-0.6,0H-0.46M0.46,0H0.6M0.86,0H1M1.26,0H1.4M1.66,0H1.8M2.06,0H2.2M0,-0.8L0.18,-0.247L0.761,-0.247L0.291,0.094L0.47,0.647L0,0.306L-0.47,0.647L-0.291,0.094L-0.761,-0.247L-0.18,-0.247Z"]}, "legend": {"title": null, "orient": "top-right", "offset": 8, "labelExpr": "datum.label=='a'?'8 hour interval  ':datum.label=='b'?'16 hour interval  ':'24 hour interval  '"}},
   "stroke": {"field": "s", "type": "nominal", "scale": {"domain": ["a","b","c"], "range": ["#d65c5c","#333333","#333333"]}, "legend": {"title": null, "orient": "top-right", "offset": 8, "labelExpr": "datum.label=='a'?'8 hour interval  ':datum.label=='b'?'16 hour interval  ':'24 hour interval  '"}},
   "fill": {"field": "s", "type": "nominal", "scale": {"domain": ["a","b","c"], "range": ["#eba4a4","transparent","transparent"]}, "legend": {"title": null, "orient": "top-right", "offset": 8, "labelExpr": "datum.label=='a'?'8 hour interval  ':datum.label=='b'?'16 hour interval  ':'24 hour interval  '"}}
  }}
]
},
{
"width": 359, "height": 255,
"title": {"text": "Resting Macrophages", "fontSize": 19, "offset": -6.6},
"view": {"stroke": null},
"data": {"name": "mac"},
"transform": [{"fold": ["a","b","c"], "as": ["s","v"]}, {"filter": "isValid(datum.v)"}],
"encoding": {
 "x": {"field": "t", "type": "quantitative", "scale": {"domain": [0, 94.7], "nice": false, "zero": false}, "axis": {"values": [0,20,40,60,80], "format": "d", "title": "Hours After Operation", "titleFontSize": 19, "titleY": 37.6, "domain": true, "domainColor": "#555555", "domainWidth": 1}},
 "y": {"field": "v", "type": "quantitative", "scale": {"domain": [0, 0.005], "nice": false, "zero": false}, "axis": {"values": [0,0.001,0.002,0.003,0.004,0.005], "format": ".3f", "title": "Concentration (cells/mm³)", "titleFontSize": 20, "titleX": -45, "domain": true, "domainColor": "#555555", "domainWidth": 1}}
},
"layer": [
 {"transform": [{"filter": "datum.s=='a'"}], "mark": {"type": "line", "clip": true, "color": "#f0a8a8", "strokeWidth": 1.2}},
 {"transform": [{"filter": "datum.s=='a'"}], "mark": {"type": "point", "clip": true, "shape": "circle", "size": 150, "filled": false, "color": "#e05050", "strokeWidth": 1, "opacity": 1}},
 {"transform": [{"filter": "datum.s=='b'"}], "mark": {"type": "line", "clip": true, "color": "#666666", "strokeWidth": 0.8}},
 {"transform": [{"filter": "datum.s=='b'"}], "mark": {"type": "point", "clip": true, "shape": "M-1,-1L1,-1L0,1Z", "size": 150, "filled": false, "color": "#333333", "strokeWidth": 1, "opacity": 1}},
 {"transform": [{"filter": "datum.s=='c'"}], "mark": {"type": "line", "clip": true, "color": "#666666", "strokeWidth": 0.8}},
 {"transform": [{"filter": "datum.s=='c'"}], "mark": {"type": "point", "clip": true, "shape": "M0,-1L0.225,-0.309L0.951,-0.309L0.363,0.118L0.588,0.809L0,0.382L-0.588,0.809L-0.363,0.118L-0.951,-0.309L-0.225,-0.309Z", "size": 150, "filled": false, "color": "#333333", "strokeWidth": 1, "opacity": 1}},
 {"transform": [{"filter": "datum.s=='a' && datum.t==2"}], "mark": {"type": "rule", "color": "#555555", "strokeWidth": 1}, "encoding": {"x": {"datum": 0}, "x2": {"datum": 94.7}, "y": {"datum": 0.005}}},
 {"transform": [{"filter": "false"}], "mark": {"type": "point", "filled": true, "size": 200, "opacity": 1, "strokeWidth": 1},
  "encoding": {
   "shape": {"field": "s", "type": "nominal", "scale": {"domain": ["a","b","c"], "range": ["M-2.2,0H-1.05M1.05,0H2.2M1.05,0C1.05,0.58,0.58,1.05,0,1.05C-0.58,1.05,-1.05,0.58,-1.05,0C-1.05,-0.58,-0.58,-1.05,0,-1.05C0.58,-1.05,1.05,-0.58,1.05,0Z", "M-2.2,0H-0.43M0.43,0H2.2M-0.85,-0.85L0.85,-0.85L0,0.85Z", "M-2.2,0H-0.35M0.35,0H2.2M0,-0.8L0.18,-0.247L0.761,-0.247L0.291,0.094L0.47,0.647L0,0.306L-0.47,0.647L-0.291,0.094L-0.761,-0.247L-0.18,-0.247Z"]}, "legend": {"title": null, "orient": "none", "legendX": 202, "legendY": 7, "labelExpr": "datum.label=='a'?'8 hour interval  ':datum.label=='b'?'16 hour interval  ':'24 hour interval  '"}},
   "stroke": {"field": "s", "type": "nominal", "scale": {"domain": ["a","b","c"], "range": ["#e05050","#444444","#444444"]}, "legend": {"title": null, "orient": "none", "legendX": 202, "legendY": 7, "labelExpr": "datum.label=='a'?'8 hour interval  ':datum.label=='b'?'16 hour interval  ':'24 hour interval  '"}},
   "fill": {"field": "s", "type": "nominal", "scale": {"domain": ["a","b","c"], "range": ["transparent","transparent","transparent"]}, "legend": {"title": null, "orient": "none", "legendX": 202, "legendY": 7, "labelExpr": "datum.label=='a'?'8 hour interval  ':datum.label=='b'?'16 hour interval  ':'24 hour interval  '"}}
  }}
]
}
]
}
